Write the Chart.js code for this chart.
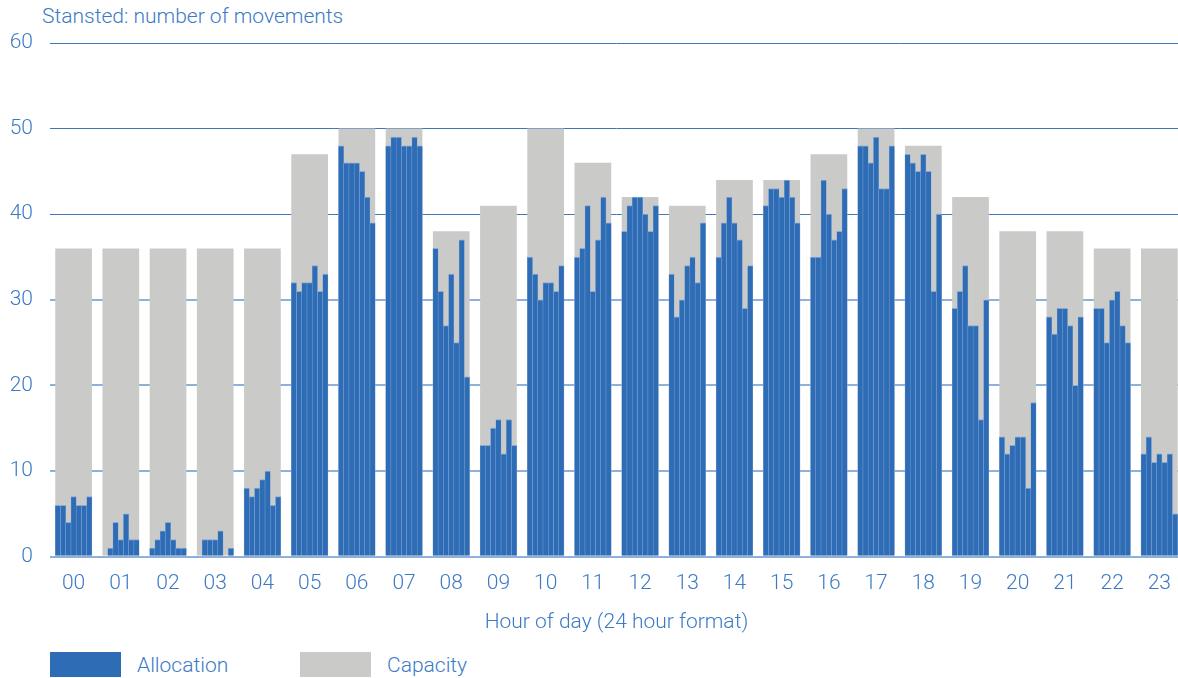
<!DOCTYPE html>
<html lang="en">
<head>
    <meta charset="UTF-8">
    <title>Stansted: number of movements</title>
    <script src="https://cdn.jsdelivr.net/npm/chart.js"></script>
    <style>
        body {
            margin: 0;
            width: 1178px;
            height: 678px;
            overflow: hidden;
            background: #ffffff;
            font-family: 'Roboto', 'Liberation Sans', sans-serif;
            font-weight: 300;
            color: #3c7ac6;
            position: relative;
        }

        #title {
            position: absolute;
            left: 42px;
            top: 4px;
            font-size: 21px;
            line-height: 24px;
            white-space: nowrap;
        }

        #chart-box {
            position: absolute;
            left: 0;
            top: 0;
            width: 1186px;
            height: 635px;
        }

        .legend-item {
            position: absolute;
            top: 652px;
            height: 25px;
            display: flex;
            align-items: center;
            font-size: 21px;
        }

        .legend-swatch {
            width: 71px;
            height: 25px;
            margin-right: 16px;
        }
    </style>
</head>
<body>

    <div id="title">Stansted: number of movements</div>

    <div id="chart-box">
        <canvas id="movementsChart"></canvas>
    </div>

    <!-- legend kept as html so the two items sit where they do in the original -->
    <div class="legend-item" style="left: 50px;">
        <div class="legend-swatch" style="background: #2e6db6;"></div>Allocation
    </div>
    <div class="legend-item" style="left: 300px;">
        <div class="legend-swatch" style="background: #cacac9;"></div>Capacity
    </div>

    <script>
        // hours of the day
        const hours = ['00', '01', '02', '03', '04', '05', '06', '07', '08', '09', '10', '11',
                       '12', '13', '14', '15', '16', '17', '18', '19', '20', '21', '22', '23'];

        // declared capacity per hour
        const capacity = [36, 36, 36, 36, 36, 47, 50, 50, 38, 41, 50, 46,
                          42, 41, 44, 44, 47, 50, 48, 42, 38, 38, 36, 36];

        // allocated movements, seven slots inside each hour
        const allocation = [
            [6, 6, 4, 7, 6, 6, 7],
            [0, 1, 4, 2, 5, 2, 2],
            [1, 2, 3, 4, 2, 1, 1],
            [0, 2, 2, 2, 3, 0, 1],
            [8, 7, 8, 9, 10, 6, 7],
            [32, 31, 32, 32, 34, 31, 33],
            [48, 46, 46, 46, 45, 42, 39],
            [48, 49, 49, 48, 48, 49, 48],
            [36, 31, 27, 33, 25, 37, 21],
            [13, 13, 15, 16, 12, 16, 13],
            [35, 33, 30, 32, 32, 31, 34],
            [35, 36, 41, 31, 37, 42, 39],
            [38, 41, 42, 42, 40, 38, 41],
            [33, 28, 30, 34, 35, 32, 39],
            [35, 39, 42, 39, 37, 29, 34],
            [41, 43, 43, 42, 44, 42, 39],
            [35, 35, 44, 40, 37, 38, 43],
            [48, 48, 46, 49, 43, 43, 48],
            [47, 46, 45, 47, 45, 31, 40],
            [29, 31, 34, 27, 27, 16, 30],
            [14, 12, 13, 14, 14, 8, 18],
            [28, 26, 29, 29, 27, 20, 28],
            [29, 29, 25, 30, 31, 27, 25],
            [12, 14, 11, 12, 11, 12, 5]
        ];

        const yTicks = [0, 10, 20, 30, 40, 50, 60];

        // each hour takes 9 slots on the fine axis: an empty one, the 7 bars, an empty one
        const slotLabels = [];
        const slotValues = [];
        allocation.forEach((hourValues, h) => {
            slotLabels.push(hours[h] + '-gap-a');
            slotValues.push(null);
            hourValues.forEach((v, i) => {
                slotLabels.push(hours[h] + '-' + i);
                slotValues.push(v);
            });
            slotLabels.push(hours[h] + '-gap-b');
            slotValues.push(null);
        });

        const blueText = '#3c7ac6';
        const axisFont = { family: "'Roboto', 'Liberation Sans', sans-serif", size: 21, weight: 300 };

        const ctx = document.getElementById('movementsChart').getContext('2d');

        new Chart(ctx, {
            type: 'bar',
            data: {
                labels: hours,
                datasets: [
                    {
                        label: 'Allocation',
                        data: slotValues,
                        xAxisID: 'xSlots',
                        order: 0,
                        grouped: false,
                        backgroundColor: '#2e6db6',
                        borderColor: '#86a9d6',
                        borderWidth: { top: 1, left: 0.5, right: 0.5, bottom: 0 },
                        borderSkipped: false,
                        barPercentage: 1,
                        categoryPercentage: 1
                    },
                    {
                        label: 'Capacity',
                        data: capacity,
                        xAxisID: 'x',
                        order: 1,
                        grouped: false,
                        backgroundColor: '#cacac9',
                        borderWidth: 0,
                        barPercentage: 1,
                        categoryPercentage: 7 / 9
                    }
                ]
            },
            options: {
                responsive: true,
                maintainAspectRatio: false,
                animation: false,
                layout: {
                    padding: { top: 43, right: 1, left: 0, bottom: 0 }
                },
                plugins: {
                    legend: { display: false },
                    tooltip: { enabled: false }
                },
                scales: {
                    x: {
                        type: 'category',
                        labels: hours,
                        offset: true,
                        grid: { display: false, drawTicks: false },
                        border: { display: false },
                        ticks: {
                            color: blueText,
                            font: axisFont,
                            padding: 15,
                            maxRotation: 0,
                            autoSkip: false
                        },
                        title: {
                            display: true,
                            text: 'Hour of day (24 hour format)',
                            color: blueText,
                            font: axisFont,
                            padding: { top: -2, bottom: 0 }
                        }
                    },
                    xSlots: {
                        type: 'category',
                        labels: slotLabels,
                        offset: true,
                        display: false
                    },
                    y: {
                        min: 0,
                        max: 60,
                        afterFit: function (scale) {
                            scale.width = 50;
                        },
                        afterBuildTicks: function (scale) {
                            scale.ticks = yTicks.map(v => ({ value: v }));
                        },
                        border: { display: false },
                        grid: {
                            drawTicks: false,
                            color: c => c.tick.value >= 40 ? '#3f77bc' : '#8db0dc',
                            lineWidth: c => c.tick.value >= 40 ? 1 : 2
                        },
                        ticks: {
                            color: blueText,
                            font: axisFont,
                            padding: 17
                        }
                    }
                }
            }
        });
    </script>
</body>
</html>
